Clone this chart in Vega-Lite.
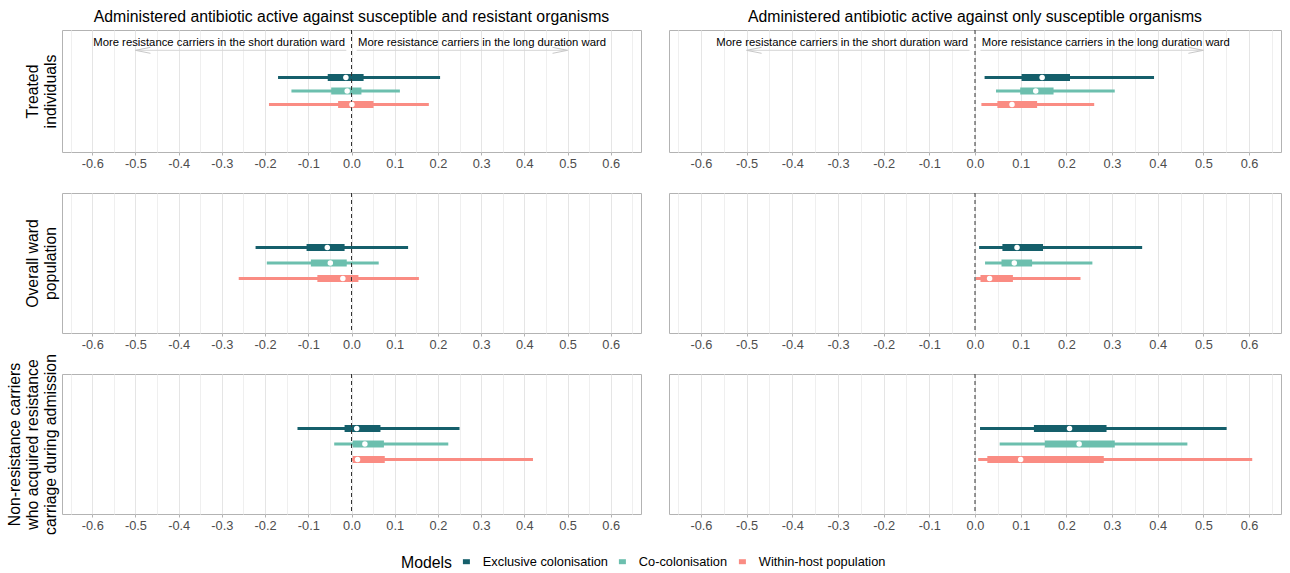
{
"$schema": "https://vega.github.io/schema/vega-lite/v6.json",
"padding": {"left": 5, "top": 8, "right": 5, "bottom": 5},
"background": "white",
"datasets": {
"est": [
{"outcome":"treated","ab":"SR","model":"Exclusive colonisation","lo":-0.170,"lo50":-0.055,"med":-0.013,"hi50":0.028,"hi":0.205},
{"outcome":"treated","ab":"SR","model":"Co-colonisation","lo":-0.139,"lo50":-0.047,"med":-0.010,"hi50":0.023,"hi":0.112},
{"outcome":"treated","ab":"SR","model":"Within-host population","lo":-0.191,"lo50":-0.031,"med":0.001,"hi50":0.051,"hi":0.179},
{"outcome":"treated","ab":"S","model":"Exclusive colonisation","lo":0.021,"lo50":0.102,"med":0.147,"hi50":0.208,"hi":0.392},
{"outcome":"treated","ab":"S","model":"Co-colonisation","lo":0.046,"lo50":0.099,"med":0.133,"hi50":0.172,"hi":0.306},
{"outcome":"treated","ab":"S","model":"Within-host population","lo":0.014,"lo50":0.049,"med":0.081,"hi50":0.136,"hi":0.261},
{"outcome":"ward","ab":"SR","model":"Exclusive colonisation","lo":-0.222,"lo50":-0.104,"med":-0.056,"hi50":-0.016,"hi":0.131},
{"outcome":"ward","ab":"SR","model":"Co-colonisation","lo":-0.196,"lo50":-0.094,"med":-0.049,"hi50":-0.011,"hi":0.063},
{"outcome":"ward","ab":"SR","model":"Within-host population","lo":-0.261,"lo50":-0.079,"med":-0.020,"hi50":0.016,"hi":0.156},
{"outcome":"ward","ab":"S","model":"Exclusive colonisation","lo":0.009,"lo50":0.060,"med":0.092,"hi50":0.149,"hi":0.366},
{"outcome":"ward","ab":"S","model":"Co-colonisation","lo":0.022,"lo50":0.058,"med":0.086,"hi50":0.125,"hi":0.257},
{"outcome":"ward","ab":"S","model":"Within-host population","lo":0.002,"lo50":0.012,"med":0.032,"hi50":0.083,"hi":0.231},
{"outcome":"acquired","ab":"SR","model":"Exclusive colonisation","lo":-0.125,"lo50":-0.016,"med":0.012,"hi50":0.067,"hi":0.250},
{"outcome":"acquired","ab":"SR","model":"Co-colonisation","lo":-0.040,"lo50":0.003,"med":0.031,"hi50":0.075,"hi":0.224},
{"outcome":"acquired","ab":"SR","model":"Within-host population","lo":0.000,"lo50":0.003,"med":0.014,"hi50":0.077,"hi":0.420},
{"outcome":"acquired","ab":"S","model":"Exclusive colonisation","lo":0.011,"lo50":0.129,"med":0.207,"hi50":0.288,"hi":0.551},
{"outcome":"acquired","ab":"S","model":"Co-colonisation","lo":0.054,"lo50":0.153,"med":0.228,"hi50":0.306,"hi":0.465},
{"outcome":"acquired","ab":"S","model":"Within-host population","lo":0.007,"lo50":0.027,"med":0.100,"hi50":0.282,"hi":0.607}
],
"ann": [
{"side":"left","label":"More resistance carriers in the short duration ward","tx":-0.015,"x0":-0.012,"x1":-0.5},
{"side":"right","label":"More resistance carriers in the long duration ward","tx":0.015,"x0":0.012,"x1":0.5}
],
"zero": [{"v": 0}]
},
"columns": 2,
"spacing": {"row": 41, "column": 28},
"bounds": "flush",
"align": "each",
"concat": [
{
"width": 579, "height": 122,
"title": "Administered antibiotic active against susceptible and resistant organisms",
"data": {"name": "est"},
"transform": [{"filter": "datum.outcome == 'treated' && datum.ab == 'SR'"}],
"resolve": {"axis": {"x": "independent"}},
"layer": [
{"mark": {"type": "rule", "strokeWidth": 3},
 "encoding": {
  "x": {"field": "lo", "type": "quantitative", "scale": {"domain": [-0.67, 0.67], "nice": false, "zero": false},
   "axis": {"values": [-0.6,-0.5,-0.4,-0.3,-0.2,-0.1,0,0.1,0.2,0.3,0.4,0.5,0.6], "title": null, "orient": "bottom", "gridColor": "#e5e5e5"}},
  "x2": {"field": "hi"},
  "y": {"field": "model", "type": "nominal", "scale": {"type": "point", "padding": 0.5, "domain": ["lab","arr","gap","Exclusive colonisation","Co-colonisation","Within-host population","b1","b2","b3"]},
   "axis": {"title": ["Treated", "individuals"]}},
  "color": {"field": "model", "type": "nominal", "title": "Models", "scale": {"domain": ["Exclusive colonisation","Co-colonisation","Within-host population"], "range": ["#155f6b","#6cbfae","#fa8c83"]}}
 }},
{"mark": {"type": "rule", "strokeWidth": 7},
 "encoding": {"x": {"field": "lo50", "type": "quantitative", "axis": null}, "x2": {"field": "hi50"}, "y": {"field": "model", "type": "nominal"},
  "color": {"field": "model", "type": "nominal", "title": "Models", "scale": {"domain": ["Exclusive colonisation","Co-colonisation","Within-host population"], "range": ["#155f6b","#6cbfae","#fa8c83"]}}}},
{"data": {"name": "zero"}, "transform": [], "mark": {"type": "rule", "strokeDash": [4, 3], "color": "#333333", "strokeWidth": 1},
 "encoding": {"x": {"field": "v", "type": "quantitative",
  "axis": {"values": [-0.65,-0.55,-0.45,-0.35,-0.25,-0.15,-0.05,0.05,0.15,0.25,0.35,0.45,0.55,0.65], "title": null, "orient": "bottom", "grid": true, "gridColor": "#efefef", "labels": false, "ticks": false, "domain": false}}}},
{"mark": {"type": "point", "filled": true, "color": "white", "opacity": 1, "size": 30},
 "encoding": {"x": {"field": "med", "type": "quantitative", "axis": null}, "y": {"field": "model", "type": "nominal"}}},
{"data": {"name": "ann"}, "transform": [{"filter": "datum.side == 'left'"}], "mark": {"type": "text", "align": "right", "baseline": "middle", "dy": 6, "fontSize": 11.3, "color": "black"},
 "encoding": {"x": {"field": "tx", "type": "quantitative", "axis": null}, "y": {"datum": "lab"}, "text": {"field": "label"}}},
{"data": {"name": "ann"}, "transform": [{"filter": "datum.side == 'right'"}], "mark": {"type": "text", "align": "left", "baseline": "middle", "dy": 6, "fontSize": 11.3, "color": "black"},
 "encoding": {"x": {"field": "tx", "type": "quantitative", "axis": null}, "y": {"datum": "lab"}, "text": {"field": "label"}}},
{"data": {"name": "ann"}, "transform": [], "mark": {"type": "rule", "color": "#d6d6d6", "strokeWidth": 1},
 "encoding": {"x": {"field": "x0", "type": "quantitative", "axis": null}, "x2": {"field": "x1"}, "y": {"datum": "arr"}}},
{"data": {"name": "ann"}, "transform": [], "mark": {"type": "point", "filled": false, "stroke": "#c8c8c8", "strokeWidth": 1, "size": 56, "opacity": 1},
 "encoding": {"x": {"field": "x1", "type": "quantitative", "axis": null}, "y": {"datum": "arr"},
  "shape": {"field": "side", "type": "nominal", "scale": {"domain": ["left","right"], "range": ["M4,-0.8L0,0L4,0.8", "M-4,-0.8L0,0L-4,0.8"]}, "legend": null}}}
]
},
{
"width": 612, "height": 122,
"title": "Administered antibiotic active against only susceptible organisms",
"data": {"name": "est"},
"transform": [{"filter": "datum.outcome == 'treated' && datum.ab == 'S'"}],
"resolve": {"axis": {"x": "independent"}},
"layer": [
{"mark": {"type": "rule", "strokeWidth": 3},
 "encoding": {
  "x": {"field": "lo", "type": "quantitative", "scale": {"domain": [-0.67, 0.67], "nice": false, "zero": false},
   "axis": {"values": [-0.6,-0.5,-0.4,-0.3,-0.2,-0.1,0,0.1,0.2,0.3,0.4,0.5,0.6], "title": null, "orient": "bottom", "gridColor": "#e5e5e5"}},
  "x2": {"field": "hi"},
  "y": {"field": "model", "type": "nominal", "scale": {"type": "point", "padding": 0.5, "domain": ["lab","arr","gap","Exclusive colonisation","Co-colonisation","Within-host population","b1","b2","b3"]}, "axis": null},
  "color": {"field": "model", "type": "nominal", "title": "Models", "scale": {"domain": ["Exclusive colonisation","Co-colonisation","Within-host population"], "range": ["#155f6b","#6cbfae","#fa8c83"]}}
 }},
{"mark": {"type": "rule", "strokeWidth": 7},
 "encoding": {"x": {"field": "lo50", "type": "quantitative", "axis": null}, "x2": {"field": "hi50"}, "y": {"field": "model", "type": "nominal"},
  "color": {"field": "model", "type": "nominal", "title": "Models", "scale": {"domain": ["Exclusive colonisation","Co-colonisation","Within-host population"], "range": ["#155f6b","#6cbfae","#fa8c83"]}}}},
{"data": {"name": "zero"}, "transform": [], "mark": {"type": "rule", "strokeDash": [4, 3], "color": "#333333", "strokeWidth": 1},
 "encoding": {"x": {"field": "v", "type": "quantitative",
  "axis": {"values": [-0.65,-0.55,-0.45,-0.35,-0.25,-0.15,-0.05,0.05,0.15,0.25,0.35,0.45,0.55,0.65], "title": null, "orient": "bottom", "grid": true, "gridColor": "#efefef", "labels": false, "ticks": false, "domain": false}}}},
{"mark": {"type": "point", "filled": true, "color": "white", "opacity": 1, "size": 30},
 "encoding": {"x": {"field": "med", "type": "quantitative", "axis": null}, "y": {"field": "model", "type": "nominal"}}},
{"data": {"name": "ann"}, "transform": [{"filter": "datum.side == 'left'"}], "mark": {"type": "text", "align": "right", "baseline": "middle", "dy": 6, "fontSize": 11.3, "color": "black"},
 "encoding": {"x": {"field": "tx", "type": "quantitative", "axis": null}, "y": {"datum": "lab"}, "text": {"field": "label"}}},
{"data": {"name": "ann"}, "transform": [{"filter": "datum.side == 'right'"}], "mark": {"type": "text", "align": "left", "baseline": "middle", "dy": 6, "fontSize": 11.3, "color": "black"},
 "encoding": {"x": {"field": "tx", "type": "quantitative", "axis": null}, "y": {"datum": "lab"}, "text": {"field": "label"}}},
{"data": {"name": "ann"}, "transform": [], "mark": {"type": "rule", "color": "#d6d6d6", "strokeWidth": 1},
 "encoding": {"x": {"field": "x0", "type": "quantitative", "axis": null}, "x2": {"field": "x1"}, "y": {"datum": "arr"}}},
{"data": {"name": "ann"}, "transform": [], "mark": {"type": "point", "filled": false, "stroke": "#c8c8c8", "strokeWidth": 1, "size": 56, "opacity": 1},
 "encoding": {"x": {"field": "x1", "type": "quantitative", "axis": null}, "y": {"datum": "arr"},
  "shape": {"field": "side", "type": "nominal", "scale": {"domain": ["left","right"], "range": ["M4,-0.8L0,0L4,0.8", "M-4,-0.8L0,0L-4,0.8"]}, "legend": null}}}
]
},
{
"width": 579, "height": 140,
"data": {"name": "est"},
"transform": [{"filter": "datum.outcome == 'ward' && datum.ab == 'SR'"}],
"resolve": {"axis": {"x": "independent"}},
"layer": [
{"mark": {"type": "rule", "strokeWidth": 3},
 "encoding": {
  "x": {"field": "lo", "type": "quantitative", "scale": {"domain": [-0.67, 0.67], "nice": false, "zero": false},
   "axis": {"values": [-0.6,-0.5,-0.4,-0.3,-0.2,-0.1,0,0.1,0.2,0.3,0.4,0.5,0.6], "title": null, "orient": "bottom", "gridColor": "#e5e5e5"}},
  "x2": {"field": "hi"},
  "y": {"field": "model", "type": "nominal", "scale": {"type": "point", "padding": 0.5, "domain": ["lab","arr","gap","Exclusive colonisation","Co-colonisation","Within-host population","b1","b2","b3"]},
   "axis": {"title": ["Overall ward", "population"]}},
  "color": {"field": "model", "type": "nominal", "title": "Models", "scale": {"domain": ["Exclusive colonisation","Co-colonisation","Within-host population"], "range": ["#155f6b","#6cbfae","#fa8c83"]}}
 }},
{"mark": {"type": "rule", "strokeWidth": 7},
 "encoding": {"x": {"field": "lo50", "type": "quantitative", "axis": null}, "x2": {"field": "hi50"}, "y": {"field": "model", "type": "nominal"},
  "color": {"field": "model", "type": "nominal", "title": "Models", "scale": {"domain": ["Exclusive colonisation","Co-colonisation","Within-host population"], "range": ["#155f6b","#6cbfae","#fa8c83"]}}}},
{"data": {"name": "zero"}, "transform": [], "mark": {"type": "rule", "strokeDash": [4, 3], "color": "#333333", "strokeWidth": 1},
 "encoding": {"x": {"field": "v", "type": "quantitative",
  "axis": {"values": [-0.65,-0.55,-0.45,-0.35,-0.25,-0.15,-0.05,0.05,0.15,0.25,0.35,0.45,0.55,0.65], "title": null, "orient": "bottom", "grid": true, "gridColor": "#efefef", "labels": false, "ticks": false, "domain": false}}}},
{"mark": {"type": "point", "filled": true, "color": "white", "opacity": 1, "size": 30},
 "encoding": {"x": {"field": "med", "type": "quantitative", "axis": null}, "y": {"field": "model", "type": "nominal"}}}
]
},
{
"width": 612, "height": 140,
"data": {"name": "est"},
"transform": [{"filter": "datum.outcome == 'ward' && datum.ab == 'S'"}],
"resolve": {"axis": {"x": "independent"}},
"layer": [
{"mark": {"type": "rule", "strokeWidth": 3},
 "encoding": {
  "x": {"field": "lo", "type": "quantitative", "scale": {"domain": [-0.67, 0.67], "nice": false, "zero": false},
   "axis": {"values": [-0.6,-0.5,-0.4,-0.3,-0.2,-0.1,0,0.1,0.2,0.3,0.4,0.5,0.6], "title": null, "orient": "bottom", "gridColor": "#e5e5e5"}},
  "x2": {"field": "hi"},
  "y": {"field": "model", "type": "nominal", "scale": {"type": "point", "padding": 0.5, "domain": ["lab","arr","gap","Exclusive colonisation","Co-colonisation","Within-host population","b1","b2","b3"]}, "axis": null},
  "color": {"field": "model", "type": "nominal", "title": "Models", "scale": {"domain": ["Exclusive colonisation","Co-colonisation","Within-host population"], "range": ["#155f6b","#6cbfae","#fa8c83"]}}
 }},
{"mark": {"type": "rule", "strokeWidth": 7},
 "encoding": {"x": {"field": "lo50", "type": "quantitative", "axis": null}, "x2": {"field": "hi50"}, "y": {"field": "model", "type": "nominal"},
  "color": {"field": "model", "type": "nominal", "title": "Models", "scale": {"domain": ["Exclusive colonisation","Co-colonisation","Within-host population"], "range": ["#155f6b","#6cbfae","#fa8c83"]}}}},
{"data": {"name": "zero"}, "transform": [], "mark": {"type": "rule", "strokeDash": [4, 3], "color": "#333333", "strokeWidth": 1},
 "encoding": {"x": {"field": "v", "type": "quantitative",
  "axis": {"values": [-0.65,-0.55,-0.45,-0.35,-0.25,-0.15,-0.05,0.05,0.15,0.25,0.35,0.45,0.55,0.65], "title": null, "orient": "bottom", "grid": true, "gridColor": "#efefef", "labels": false, "ticks": false, "domain": false}}}},
{"mark": {"type": "point", "filled": true, "color": "white", "opacity": 1, "size": 30},
 "encoding": {"x": {"field": "med", "type": "quantitative", "axis": null}, "y": {"field": "model", "type": "nominal"}}}
]
},
{
"width": 579, "height": 140,
"data": {"name": "est"},
"transform": [{"filter": "datum.outcome == 'acquired' && datum.ab == 'SR'"}],
"resolve": {"axis": {"x": "independent"}},
"layer": [
{"mark": {"type": "rule", "strokeWidth": 3},
 "encoding": {
  "x": {"field": "lo", "type": "quantitative", "scale": {"domain": [-0.67, 0.67], "nice": false, "zero": false},
   "axis": {"values": [-0.6,-0.5,-0.4,-0.3,-0.2,-0.1,0,0.1,0.2,0.3,0.4,0.5,0.6], "title": null, "orient": "bottom", "gridColor": "#e5e5e5"}},
  "x2": {"field": "hi"},
  "y": {"field": "model", "type": "nominal", "scale": {"type": "point", "padding": 0.5, "domain": ["lab","arr","gap","Exclusive colonisation","Co-colonisation","Within-host population","b1","b2","b3"]},
   "axis": {"title": ["Non-resistance carriers", "who acquired resistance", "carriage during admission"]}},
  "color": {"field": "model", "type": "nominal", "title": "Models", "scale": {"domain": ["Exclusive colonisation","Co-colonisation","Within-host population"], "range": ["#155f6b","#6cbfae","#fa8c83"]}}
 }},
{"mark": {"type": "rule", "strokeWidth": 7},
 "encoding": {"x": {"field": "lo50", "type": "quantitative", "axis": null}, "x2": {"field": "hi50"}, "y": {"field": "model", "type": "nominal"},
  "color": {"field": "model", "type": "nominal", "title": "Models", "scale": {"domain": ["Exclusive colonisation","Co-colonisation","Within-host population"], "range": ["#155f6b","#6cbfae","#fa8c83"]}}}},
{"data": {"name": "zero"}, "transform": [], "mark": {"type": "rule", "strokeDash": [4, 3], "color": "#333333", "strokeWidth": 1},
 "encoding": {"x": {"field": "v", "type": "quantitative",
  "axis": {"values": [-0.65,-0.55,-0.45,-0.35,-0.25,-0.15,-0.05,0.05,0.15,0.25,0.35,0.45,0.55,0.65], "title": null, "orient": "bottom", "grid": true, "gridColor": "#efefef", "labels": false, "ticks": false, "domain": false}}}},
{"mark": {"type": "point", "filled": true, "color": "white", "opacity": 1, "size": 30},
 "encoding": {"x": {"field": "med", "type": "quantitative", "axis": null}, "y": {"field": "model", "type": "nominal"}}}
]
},
{
"width": 612, "height": 140,
"data": {"name": "est"},
"transform": [{"filter": "datum.outcome == 'acquired' && datum.ab == 'S'"}],
"resolve": {"axis": {"x": "independent"}},
"layer": [
{"mark": {"type": "rule", "strokeWidth": 3},
 "encoding": {
  "x": {"field": "lo", "type": "quantitative", "scale": {"domain": [-0.67, 0.67], "nice": false, "zero": false},
   "axis": {"values": [-0.6,-0.5,-0.4,-0.3,-0.2,-0.1,0,0.1,0.2,0.3,0.4,0.5,0.6], "title": null, "orient": "bottom", "gridColor": "#e5e5e5"}},
  "x2": {"field": "hi"},
  "y": {"field": "model", "type": "nominal", "scale": {"type": "point", "padding": 0.5, "domain": ["lab","arr","gap","Exclusive colonisation","Co-colonisation","Within-host population","b1","b2","b3"]}, "axis": null},
  "color": {"field": "model", "type": "nominal", "title": "Models", "scale": {"domain": ["Exclusive colonisation","Co-colonisation","Within-host population"], "range": ["#155f6b","#6cbfae","#fa8c83"]}}
 }},
{"mark": {"type": "rule", "strokeWidth": 7},
 "encoding": {"x": {"field": "lo50", "type": "quantitative", "axis": null}, "x2": {"field": "hi50"}, "y": {"field": "model", "type": "nominal"},
  "color": {"field": "model", "type": "nominal", "title": "Models", "scale": {"domain": ["Exclusive colonisation","Co-colonisation","Within-host population"], "range": ["#155f6b","#6cbfae","#fa8c83"]}}}},
{"data": {"name": "zero"}, "transform": [], "mark": {"type": "rule", "strokeDash": [4, 3], "color": "#333333", "strokeWidth": 1},
 "encoding": {"x": {"field": "v", "type": "quantitative",
  "axis": {"values": [-0.65,-0.55,-0.45,-0.35,-0.25,-0.15,-0.05,0.05,0.15,0.25,0.35,0.45,0.55,0.65], "title": null, "orient": "bottom", "grid": true, "gridColor": "#efefef", "labels": false, "ticks": false, "domain": false}}}},
{"mark": {"type": "point", "filled": true, "color": "white", "opacity": 1, "size": 30},
 "encoding": {"x": {"field": "med", "type": "quantitative", "axis": null}, "y": {"field": "model", "type": "nominal"}}}
]
}
],
"config": {
 "font": "Liberation Sans",
 "locale": {"number": {"decimal": ".", "thousands": ",", "grouping": [3], "currency": ["$", ""], "minus": "-"}},
 "view": {"stroke": "#b3b3b3", "strokeWidth": 1},
 "title": {"fontSize": 15.8, "fontWeight": "normal", "color": "#000000", "offset": 4, "font": "Liberation Sans"},
 "axisX": {"grid": true, "domain": false, "tickSize": 3, "tickColor": "#b3b3b3", "labelColor": "#4d4d4d", "labelFontSize": 12.8, "labelPadding": 2, "labelFont": "Liberation Sans"},
 "axisY": {"grid": false, "domain": false, "ticks": false, "labels": false, "titlePadding": 4, "titleFontSize": 15.8, "titleFontWeight": "normal", "titleColor": "#000000", "titleLineHeight": 18, "titleFont": "Liberation Sans"},
 "legend": {"orient": "bottom", "direction": "horizontal", "titleOrient": "left", "titleFontSize": 15.8, "titleFontWeight": "normal", "titleColor": "#000000", "labelFontSize": 12.8, "labelColor": "#000000", "symbolType": "stroke", "symbolStrokeWidth": 5, "symbolSize": 49, "offset": 20, "columnPadding": 0, "labelOffset": 10, "titlePadding": 8, "layout": {"bottom": {"anchor": "middle"}}}
}
}
